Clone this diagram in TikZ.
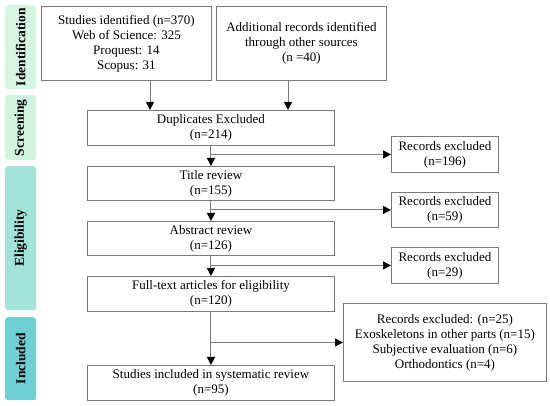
\documentclass[tikz,border=0pt]{standalone}
\usepackage{fontspec}
\setmainfont{Liberation Serif}
\usetikzlibrary{arrows.meta,calc}
\definecolor{linegray}{HTML}{7A7A7A}
\definecolor{idcol}{HTML}{D6F5E3}
\definecolor{sccol}{HTML}{D3F3E2}
\definecolor{elcol}{HTML}{A3E3D8}
\definecolor{incol}{HTML}{6FD0D3}
\tikzset{
  box/.style={draw=linegray, line width=0.9pt, anchor=north west, align=center,
    inner sep=0pt, font=\fontsize{13}{15}\selectfont},
  phase/.style={rounded corners=3pt, anchor=north west, inner sep=0pt},
  phasetext/.style={rotate=90, font=\fontsize{13.5}{15}\selectfont\bfseries},
  arr/.style={draw=linegray, line width=1pt, -{Triangle[length=8pt,width=8pt,color=black]}}
}
\begin{document}
\begin{tikzpicture}[x=1pt,y=-1pt]
\useasboundingbox (0,0) rectangle (550,406);
% phase bars
\node[phase, fill=idcol, minimum width=31pt, minimum height=84pt] (pid) at (5,5) {};
\node[phasetext] (tid) at (pid.center) {Identification};
\node[phase, fill=sccol, minimum width=31pt, minimum height=65pt] (psc) at (5,95) {};
\node[phasetext] (tsc) at (psc.center) {Screening};
\node[phase, fill=elcol, minimum width=31pt, minimum height=144pt] (pel) at (5,166) {};
\node[phasetext] (tel) at (pel.center) {Eligibility};
\node[phase, fill=incol, minimum width=31pt, minimum height=83pt] (pin) at (5,317) {};
\node[phasetext] (tin) at (pin.center) {Included};
% boxes
\node[box, minimum width=170pt, minimum height=74pt] (s1) at (41,6) {Studies identified (n=370)\\Web of Science: 325\\Proquest: 14\\Scopus: 31};
\node[box, minimum width=170pt, minimum height=74pt] (s2) at (216,6) {Additional records identified\\through other sources\\(n =40)};
\node[box, minimum width=247pt, minimum height=35pt] (dup) at (87,110) {Duplicates Excluded\\(n=214)};
\node[box, minimum width=247pt, minimum height=34pt] (tit) at (87,166) {Title review\\(n=155)};
\node[box, minimum width=247pt, minimum height=34pt] (abs) at (87,221) {Abstract review\\(n=126)};
\node[box, minimum width=247pt, minimum height=35pt] (ful) at (87,276) {Full-text articles for eligibility\\(n=120)};
\node[box, minimum width=247pt, minimum height=35pt] (inc) at (87,365) {Studies included in systematic review\\(n=95)};
\node[box, minimum width=107pt, minimum height=36pt] (r1) at (391,136) {Records excluded\\(n=196)};
\node[box, minimum width=107pt, minimum height=35pt] (r2) at (391,192) {Records excluded\\(n=59)};
\node[box, minimum width=107pt, minimum height=36pt] (r3) at (391,247) {Records excluded\\(n=29)};
\node[box, minimum width=203pt, minimum height=78pt] (r4) at (343,303) {Records excluded: (n=25)\\Exoskeletons in other parts (n=15)\\Subjective evaluation (n=6)\\Orthodontics (n=4)};
% connectors
\coordinate (a1) at (150,80);
\coordinate (a2) at (288,80);
\draw[arr] (a1) -- (a1 |- dup.north);
\draw[arr] (a2) -- (a2 |- dup.north);
\draw[arr] (dup.south) -- (tit.north);
\draw[arr] (dup.south |- r1.west) -- (r1.west);
\draw[arr] (tit.south) -- (abs.north);
\draw[arr] (tit.south |- r2.west) -- (r2.west);
\draw[arr] (abs.south) -- (ful.north);
\draw[arr] (abs.south |- r3.west) -- (r3.west);
\draw[arr] (ful.south) -- (inc.north);
\draw[arr] (ful.south |- r4.west) -- (r4.west);
\end{tikzpicture}
\end{document}
